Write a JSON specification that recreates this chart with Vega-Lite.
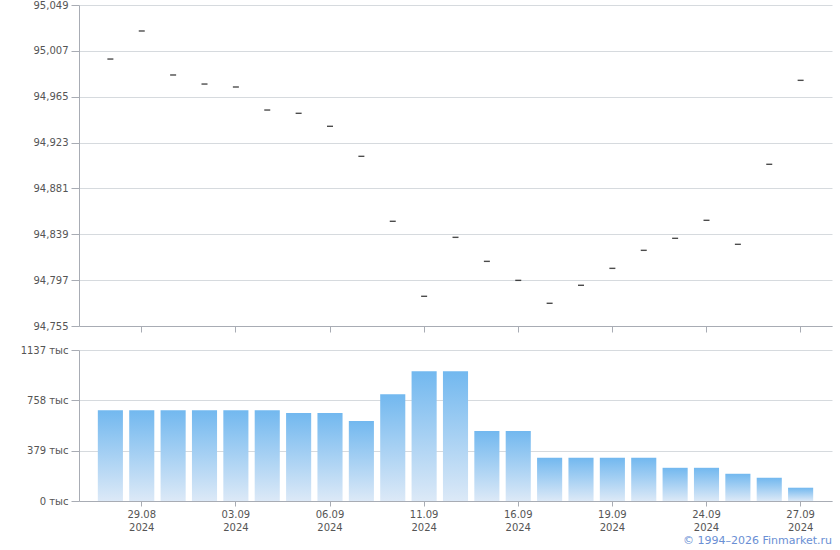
{
  "$schema": "https://vega.github.io/schema/vega-lite/v6.json",
  "autosize": {"type": "pad"},
  "padding": {"left": 20, "top": 0, "right": 8, "bottom": 2},
  "background": "white",
  "config": {
    "font": "DejaVu Sans",
    "view": {"stroke": null},
    "axis": {
      "labelFont": "DejaVu Sans",
      "labelFontSize": 10,
      "labelColor": "#555555",
      "gridColor": "#d6dade",
      "gridWidth": 1,
      "domainColor": "#a8acb4",
      "tickColor": "#a8acb4",
      "title": null
    }
  },
  "title": {
    "text": "© 1994–2026 Finmarket.ru",
    "orient": "bottom",
    "anchor": "end",
    "fontSize": 11,
    "fontWeight": "normal",
    "color": "#6a8fd4",
    "font": "DejaVu Sans",
    "offset": 3
  },
  "data": {
    "values": [
      {"date": "28.08.2024", "price": 94.9995, "volume": 684000},
      {"date": "29.08.2024", "price": 95.0252, "volume": 684000},
      {"date": "30.08.2024", "price": 94.9849, "volume": 684000},
      {"date": "02.09.2024", "price": 94.9766, "volume": 684000},
      {"date": "03.09.2024", "price": 94.9739, "volume": 684000},
      {"date": "04.09.2024", "price": 94.9528, "volume": 684000},
      {"date": "05.09.2024", "price": 94.9498, "volume": 662000},
      {"date": "06.09.2024", "price": 94.9379, "volume": 662000},
      {"date": "09.09.2024", "price": 94.9104, "volume": 602000},
      {"date": "10.09.2024", "price": 94.8509, "volume": 804000},
      {"date": "11.09.2024", "price": 94.7822, "volume": 977000},
      {"date": "12.09.2024", "price": 94.8362, "volume": 977000},
      {"date": "13.09.2024", "price": 94.8142, "volume": 527000},
      {"date": "16.09.2024", "price": 94.7968, "volume": 527000},
      {"date": "17.09.2024", "price": 94.7758, "volume": 325000},
      {"date": "18.09.2024", "price": 94.7923, "volume": 325000},
      {"date": "19.09.2024", "price": 94.8078, "volume": 325000},
      {"date": "20.09.2024", "price": 94.8243, "volume": 325000},
      {"date": "23.09.2024", "price": 94.8353, "volume": 250000},
      {"date": "24.09.2024", "price": 94.8518, "volume": 250000},
      {"date": "25.09.2024", "price": 94.8298, "volume": 205000},
      {"date": "26.09.2024", "price": 94.9031, "volume": 175000},
      {"date": "27.09.2024", "price": 94.98, "volume": 100000}
    ]
  },
  "spacing": 12,
  "resolve": {"scale": {"x": "shared"}},
  "vconcat": [
    {
      "width": 753,
      "height": 321,
      "mark": {"type": "tick", "color": "#000000", "size": 6, "thickness": 1.4},
      "encoding": {
        "x": {
          "field": "date",
          "type": "ordinal",
          "sort": null,
          "scale": {"type": "band", "paddingInner": 0.2, "paddingOuter": 0.6},
          "axis": {
            "labels": false,
            "tickSize": 6,
            "values": ["29.08.2024", "03.09.2024", "06.09.2024", "11.09.2024", "16.09.2024", "19.09.2024", "24.09.2024", "27.09.2024"]
          }
        },
        "y": {
          "field": "price",
          "type": "quantitative",
          "scale": {"domain": [94.755, 95.049], "zero": false, "nice": false},
          "axis": {
            "values": [94.755, 94.797, 94.839, 94.881, 94.923, 94.965, 95.007, 95.049],
            "labelExpr": "replace(format(datum.value, '.3f'), '.', ',')",
            "tickSize": 8,
            "labelPadding": 3
          }
        }
      }
    },
    {
      "width": 753,
      "height": 151,
      "mark": {
        "type": "bar",
        "color": {
          "gradient": "linear",
          "x1": 0, "y1": 0, "x2": 0, "y2": 1,
          "stops": [
            {"offset": 0, "color": "#72b8ef"},
            {"offset": 1, "color": "#dce9f7"}
          ]
        }
      },
      "encoding": {
        "x": {
          "field": "date",
          "type": "ordinal",
          "sort": null,
          "scale": {"type": "band", "paddingInner": 0.2, "paddingOuter": 0.6},
          "axis": {
            "labelAngle": 0,
            "tickSize": 5,
            "labelPadding": 3,
            "labelLineHeight": 13,
            "values": ["29.08.2024", "03.09.2024", "06.09.2024", "11.09.2024", "16.09.2024", "19.09.2024", "24.09.2024", "27.09.2024"],
            "labelExpr": "[slice(datum.value, 0, 5), slice(datum.value, 6)]"
          }
        },
        "y": {
          "field": "volume",
          "type": "quantitative",
          "scale": {"domain": [0, 1137000], "nice": false},
          "axis": {
            "values": [0, 379000, 758000, 1137000],
            "labelExpr": "format(datum.value / 1000, 'd') + ' тыс'",
            "tickSize": 8,
            "labelPadding": 3
          }
        }
      }
    }
  ]
}
